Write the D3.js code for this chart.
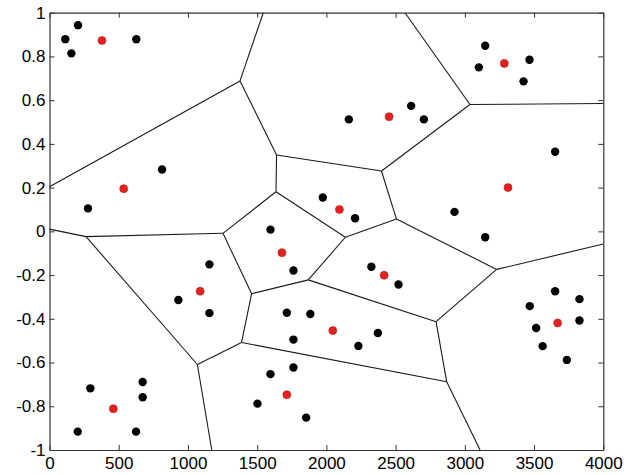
<!DOCTYPE html>
<html>
<head>
<meta charset="utf-8">
<script src="https://cdn.jsdelivr.net/npm/d3@7"></script>
<style>
  html, body { margin: 0; padding: 0; background: #fff; }
  svg { display: block; }
  .tick text { font-family: Arial, "Liberation Sans", sans-serif; font-size: 17px; fill: #000; }
</style>
</head>
<body>
<svg id="chart" width="629" height="475"></svg>
<script>
// ---- data ----
const xTicks = [0, 500, 1000, 1500, 2000, 2500, 3000, 3500, 4000];
const yTicks = [1, 0.8, 0.6, 0.4, 0.2, 0, -0.2, -0.4, -0.6, -0.8, -1];

// black sample points [x, y]
const blackPts = [
  [114, 0.879], [206, 0.943], [158, 0.814], [627, 0.879],
  [813, 0.283], [278, 0.105],
  [1596, 0.008],
  [3147, 0.849], [3101, 0.750], [3467, 0.785], [3424, 0.686],
  [2162, 0.512], [2612, 0.574], [2704, 0.512],
  [3652, 0.364], [2925, 0.089], [3147, -0.027],
  [1974, 0.155], [2207, 0.060],
  [1762, -0.179],
  [1155, -0.151], [931, -0.314], [1155, -0.374],
  [1714, -0.372], [1884, -0.378], [1762, -0.495],
  [1762, -0.623], [1596, -0.653], [1502, -0.788], [1854, -0.852],
  [295, -0.718], [673, -0.689], [673, -0.759], [204, -0.916], [625, -0.916],
  [2325, -0.162], [2521, -0.243],
  [2372, -0.465], [2231, -0.524],
  [3652, -0.274], [3828, -0.310], [3469, -0.342], [3828, -0.408], [3515, -0.442], [3562, -0.525], [3737, -0.588]
];

// red cluster centres [x, y]
const redPts = [
  [379, 0.873], [536, 0.195], [2453, 0.524], [3285, 0.768], [3312, 0.200],
  [2094, 0.100], [1679, -0.098], [1088, -0.274], [2417, -0.201],
  [2046, -0.454], [1714, -0.747], [461, -0.811], [3670, -0.419]
];

// partition vertices [x, y]
const vertices = [
  [1544, 1.0],    // 0 T1
  [1376, 0.688],  // 1 A
  [0, 0.204],     // 2 L1
  [1640, 0.349],  // 3 B
  [2398, 0.276],  // 4 C
  [3037, 0.580],  // 5 D
  [2568, 1.0],    // 6 T2
  [4000, 0.585],  // 7 R1
  [1636, 0.181],  // 8 E
  [2506, 0.056],  // 9 P
  [2137, -0.027], // 10 M
  [1253, -0.009], // 11 F
  [264, -0.024],  // 12 G
  [0, 0.010],     // 13 L2
  [3230, -0.174], // 14 N
  [4000, -0.058], // 15 R2
  [1460, -0.285], // 16 J
  [1869, -0.222], // 17 K
  [2792, -0.413], // 18 L
  [1387, -0.508], // 19 I
  [1068, -0.609], // 20 H
  [2869, -0.688], // 21 Q
  [1172, -1.0],   // 22 B1
  [3110, -1.0]    // 23 B2
];

// edges as vertex index pairs
const edges = [
  [0, 1], [1, 2], [1, 3], [3, 4], [4, 5], [5, 6], [5, 7], [3, 8], [4, 9],
  [8, 10], [10, 9], [8, 11], [11, 12], [12, 13], [12, 20], [11, 16], [9, 14],
  [14, 15], [16, 17], [17, 10], [17, 18], [14, 18], [16, 19], [19, 20],
  [20, 22], [19, 21], [18, 21], [21, 23]
];

// ---- drawing ----
const W = 629, H = 475;
const margin = { left: 49.5, right: 25.7, top: 12.7, bottom: 25 };
const svg = d3.select("#chart");

const x = d3.scaleLinear().domain([0, 4000]).range([margin.left, W - margin.right]);
const y = d3.scaleLinear().domain([-1, 1]).range([H - margin.bottom, margin.top]);

// partition lines
svg.append("g")
  .selectAll("line")
  .data(edges)
  .join("line")
  .attr("x1", d => x(vertices[d[0]][0]))
  .attr("y1", d => y(vertices[d[0]][1]))
  .attr("x2", d => x(vertices[d[1]][0]))
  .attr("y2", d => y(vertices[d[1]][1]))
  .attr("stroke", "#1a1a1a")
  .attr("stroke-width", 1.1);

// axes (ticks pointing inward, boxed)
const axisColor = "#333";
function styleAxis(g) {
  g.select(".domain").attr("stroke", axisColor).attr("stroke-width", 1.2);
  g.selectAll(".tick line").attr("stroke", axisColor).attr("stroke-width", 1);
}

svg.append("g")
  .attr("transform", `translate(0,${y(-1)})`)
  .call(d3.axisBottom(x).tickValues(xTicks).tickFormat(d => String(d))
    .tickSizeInner(-5).tickSizeOuter(0).tickPadding(7))
  .call(styleAxis)
  .call(g => g.selectAll(".tick text").attr("font-size", null).attr("font-family", null));

svg.append("g")
  .attr("transform", `translate(0,${y(1)})`)
  .call(d3.axisTop(x).tickValues(xTicks).tickFormat("")
    .tickSizeInner(-5).tickSizeOuter(0))
  .call(styleAxis);

svg.append("g")
  .attr("transform", `translate(${x(0)},0)`)
  .call(d3.axisLeft(y).tickValues(yTicks).tickFormat(d => String(d))
    .tickSizeInner(-5).tickSizeOuter(0).tickPadding(4))
  .call(styleAxis)
  .call(g => g.selectAll(".tick text").attr("font-size", null).attr("font-family", null));

svg.append("g")
  .attr("transform", `translate(${x(4000)},0)`)
  .call(d3.axisRight(y).tickValues(yTicks).tickFormat("")
    .tickSizeInner(-5).tickSizeOuter(0))
  .call(styleAxis);

// points
svg.append("g")
  .selectAll("circle")
  .data(blackPts)
  .join("circle")
  .attr("cx", d => x(d[0]))
  .attr("cy", d => y(d[1]))
  .attr("r", 4.2)
  .attr("fill", "#000");

svg.append("g")
  .selectAll("circle")
  .data(redPts)
  .join("circle")
  .attr("cx", d => x(d[0]))
  .attr("cy", d => y(d[1]))
  .attr("r", 4)
  .attr("fill", "#e3221f")
  .attr("stroke", "#b51a17")
  .attr("stroke-width", 0.6);
</script>
</body>
</html>
